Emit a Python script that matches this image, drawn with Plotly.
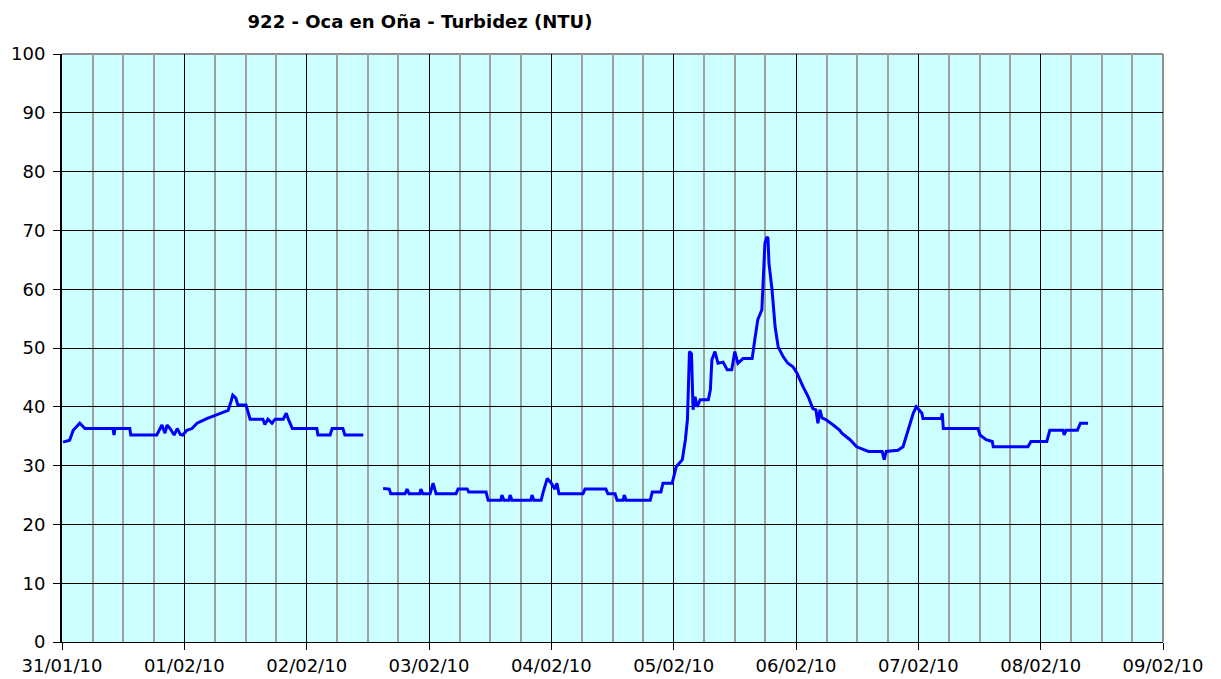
import plotly.graph_objects as go
from datetime import datetime, timedelta

# hours since 31/01/10 00:00 and turbidity values (NTU); None = gap
hours = [0.2, 1.5, 2.2, 3.5, 4.5, 10.0, 10.2, 10.4, 13.3, 13.5, 18.6, 19.2, 19.6, 20.2, 20.6, 21.2,
         22.0, 22.6, 23.2, 23.7, 24.5, 25.5, 26.5, 28.4, 31.0, 32.6, 33.2, 33.5, 34.1, 34.5, 36.1,
         36.5, 36.9, 39.4, 39.8, 40.4, 41.2, 41.8, 43.4, 44.0, 44.4, 45.2, 50.0, 50.2, 52.6, 53.0,
         55.1, 55.5, 59.1,
         61.0,
         63.0, 64.2, 64.5, 67.3, 67.7, 68.1, 70.2, 70.4, 70.8, 72.2, 72.8, 73.4, 77.3, 77.7, 79.5,
         79.8, 83.2, 83.6, 86.1, 86.3, 86.7, 87.7, 87.9, 88.3, 92.0, 92.2, 92.6, 94.0, 94.4, 95.2,
         96.0, 96.7, 97.1, 97.5, 102.2, 102.6, 106.7, 107.1, 108.5, 108.9, 110.1, 110.3, 110.7,
         115.4, 115.8, 117.5, 117.9, 119.7, 120.5, 121.1, 121.7, 122.3, 122.7, 123.1, 123.5, 123.8,
         124.2, 124.6, 125.2, 126.8, 127.2, 127.5, 128.1, 128.7, 129.7, 130.5, 131.4, 132.0, 132.6,
         133.6, 135.4, 136.0, 136.5, 137.3, 137.5, 137.9, 138.3, 138.5, 138.7, 139.3, 139.9, 140.5,
         141.5, 142.4, 143.4, 144.2, 145.4, 146.4, 147.3, 147.9, 148.3, 148.7, 149.1, 149.9, 151.3,
         152.6, 153.0, 154.6, 155.9, 158.2, 160.9, 161.3, 161.7, 164.0, 165.0, 166.0, 167.0, 167.6,
         168.7, 168.9, 172.5, 172.7, 172.9, 179.7, 180.1, 181.3, 182.5, 182.7, 189.5, 190.1, 193.2,
         193.8, 196.4, 196.6, 197.0, 199.2, 199.8, 201.3]
values = [34.0, 34.3, 36.0, 37.2, 36.3, 36.3, 35.2, 36.3, 36.3, 35.2, 35.2, 36.3, 36.9, 35.5, 36.9, 36.3,
          35.2, 36.3, 35.3, 35.2, 36.0, 36.3, 37.2, 38.0, 38.9, 39.4, 41.0, 42.0, 41.5, 40.3, 40.3,
          38.9, 37.9, 37.9, 37.0, 37.9, 37.2, 37.9, 37.9, 38.9, 37.9, 36.3, 36.3, 35.2, 35.2, 36.3,
          36.3, 35.2, 35.2,
          None,
          26.1, 26.0, 25.2, 25.2, 26.0, 25.2, 25.2, 26.0, 25.2, 25.2, 27.0, 25.2, 25.2, 26.0, 26.0,
          25.5, 25.5, 24.1, 24.1, 25.0, 24.1, 24.1, 25.0, 24.1, 24.1, 25.0, 24.1, 24.1, 25.5, 27.8,
          27.0, 26.0, 27.0, 25.2, 25.2, 26.0, 26.0, 25.2, 25.2, 24.1, 24.1, 25.0, 24.1,
          24.1, 25.5, 25.5, 27.0, 27.0, 29.8, 30.5, 31.0, 34.4, 37.8, 49.4, 49.0, 39.5,
          41.7, 40.0, 41.2, 41.2, 42.9, 48.0, 49.4, 47.4, 47.6, 46.3, 46.3, 49.4, 47.4,
          48.2, 48.2, 51.9, 54.8, 56.5, 61.0, 67.8, 68.9, 68.7, 64.4, 59.9, 53.6, 50.2,
          48.5, 47.4, 46.8, 45.7, 43.4, 41.7, 39.7, 39.5, 37.2, 39.5, 38.1, 37.8, 36.9,
          36.0, 35.5, 34.4, 33.2, 32.4, 32.4, 31.0, 32.4, 32.6, 33.2, 36.0, 38.9, 40.0,
          38.9, 38.0, 38.0, 38.9, 36.3, 36.3, 35.2, 34.4, 34.1, 33.2, 33.2, 34.1, 34.1,
          36.0, 36.0, 35.2, 36.0, 36.0, 37.2, 37.2]

title_text = "922 - Oca en Oña - Turbidez (NTU)"
x_start = "2010-01-31"
x_end = "2010-02-09"

base = datetime(2010, 1, 31)
times = [base + timedelta(hours=h) for h in hours]

fig = go.Figure()
fig.add_trace(go.Scatter(x=times, y=values, mode="lines",
                         line=dict(color="#0000FF", width=3), connectgaps=False,
                         showlegend=False, hoverinfo="skip"))

font_main = "DejaVu Sans, Verdana, sans-serif"

W, H = 1221, 679
fig.update_layout(
    width=W, height=H,
    margin=dict(l=62, r=58, t=54, b=37, autoexpand=False),
    paper_bgcolor="white",
    plot_bgcolor="#CCFFFF",
    title=dict(text="<b>" + title_text + "</b>", x=420 / W, xanchor="center",
               y=1 - 22 / H, yanchor="middle",
               font=dict(family=font_main, size=18, color="black")),
    font=dict(family=font_main, size=18, color="black"),
)

fig.update_xaxes(
    range=[x_start, x_end], type="date",
    tick0=x_start, dtick=86400000, tickformat="%d/%m/%y",
    showgrid=True, gridcolor="black", gridwidth=1,
    minor=dict(dtick=6 * 3600000, showgrid=True, gridcolor="#A0A0A0", gridwidth=2),
    ticks="outside", ticklen=7, tickcolor="black", tickwidth=1,
    showline=True, linecolor="black", linewidth=1,
    zeroline=False, tickfont=dict(size=18), automargin=False,
)
fig.update_yaxes(
    range=[0, 100], tick0=0, dtick=10,
    showgrid=True, gridcolor="black", gridwidth=1,
    ticks="outside", ticklen=7, tickcolor="black", tickwidth=1,
    showline=True, linecolor="black", linewidth=2,
    zeroline=False, tickfont=dict(size=18), ticklabelstandoff=4, automargin=False,
)

# gray frame on top and right edges of the plot area
fig.add_shape(type="line", xref="paper", yref="paper", x0=0, x1=1, y0=1, y1=1,
              line=dict(color="#909090", width=2), layer="below")
fig.add_shape(type="line", xref="paper", yref="paper", x0=1, x1=1, y0=0, y1=1,
              line=dict(color="#909090", width=2), layer="below")

fig.write_html(
    "out.html",
    config={"displayModeBar": False},
    post_script="document.body.style.margin='0';document.body.style.overflow='hidden';",
)
